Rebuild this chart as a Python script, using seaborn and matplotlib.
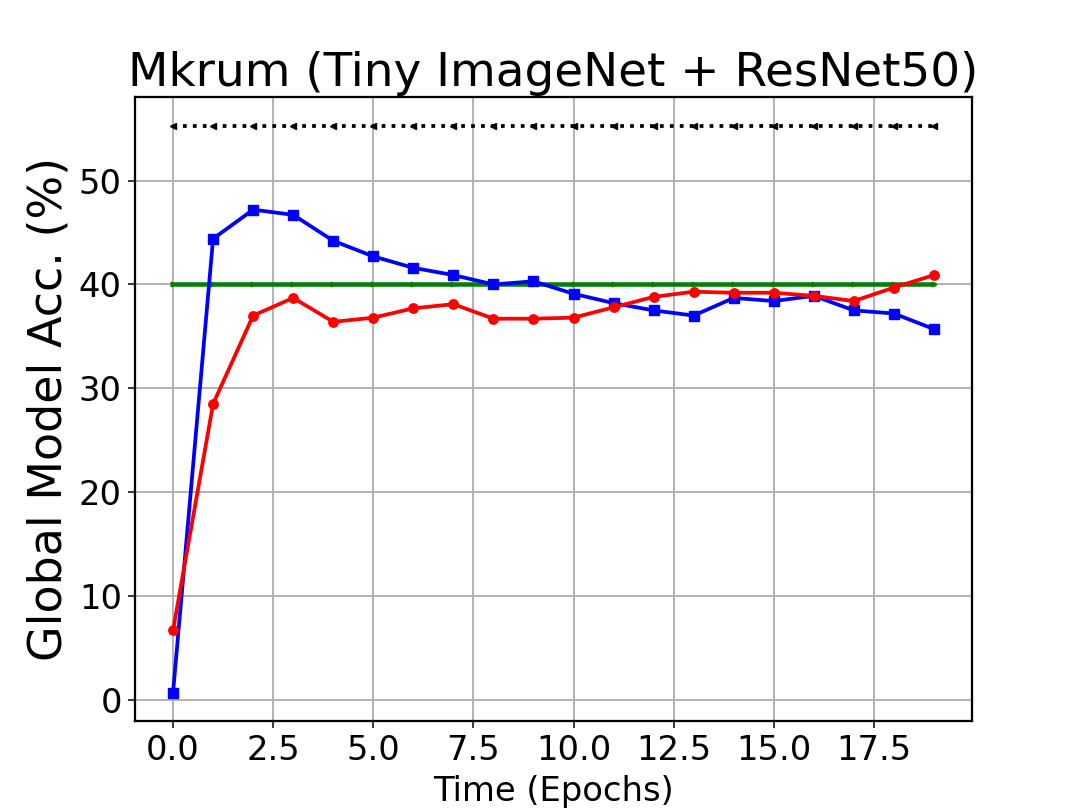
import numpy as np
import pandas as pd
import matplotlib
matplotlib.use("Agg")
import matplotlib.pyplot as plt
from matplotlib.ticker import MultipleLocator, FormatStrFormatter
import seaborn as sns

# Data
epochs = list(range(20))
acc_blue = [0.7, 44.4, 47.2, 46.7, 44.2, 42.7, 41.6, 40.9, 40.0, 40.3,
            39.1, 38.2, 37.5, 37.0, 38.7, 38.4, 38.9, 37.5, 37.2, 35.7]
acc_red = [6.7, 28.5, 37.0, 38.7, 36.4, 36.8, 37.7, 38.1, 36.7, 36.7,
           36.8, 37.8, 38.8, 39.3, 39.2, 39.2, 38.9, 38.4, 39.7, 40.9]
acc_upper = [55.3] * 20
acc_target = [40.0] * 20

sns.set_style("ticks", rc={"text.color": "black", "axes.labelcolor": "black",
                           "xtick.color": "black", "ytick.color": "black",
                           "axes.edgecolor": "black"})
plt.rcParams["font.family"] = ["DejaVu Sans"]

fig, ax = plt.subplots(figsize=(8, 6), dpi=135)

sns.lineplot(x=epochs, y=acc_upper, ax=ax, color="black", linestyle=":",
             marker="<", markersize=3, linewidth=2, markeredgecolor="black")
sns.lineplot(x=epochs, y=acc_target, ax=ax, color="green", linestyle="-",
             marker=">", markersize=2.5, linewidth=2.4, markeredgecolor="green")
sns.lineplot(x=epochs, y=acc_blue, ax=ax, color="blue", marker="s",
             markersize=5, linewidth=2, markeredgecolor="blue")
sns.lineplot(x=epochs, y=acc_red, ax=ax, color="red", marker="o",
             markersize=5, linewidth=2, markeredgecolor="red")

ax.grid(True, color="#b0b0b0", linewidth=1.0)
ax.set_axisbelow(True)
for s in ax.spines.values():
    s.set_visible(True)
    s.set_linewidth(1.2)
ax.margins(x=0.05, y=0.05)
ax.xaxis.set_major_locator(MultipleLocator(2.5))
ax.xaxis.set_major_formatter(FormatStrFormatter("%.1f"))

ax.set_title("Mkrum (Tiny ImageNet + ResNet50)", fontsize=25)
ax.set_ylabel("Global Model Acc. (%)", fontsize=24.5)
ax.set_xlabel("Time (Epochs)", fontsize=18)
ax.tick_params(labelsize=18)

fig.subplots_adjust(left=0.125, right=0.9, bottom=0.11, top=0.88)
fig.savefig("out.png", dpi=135)
